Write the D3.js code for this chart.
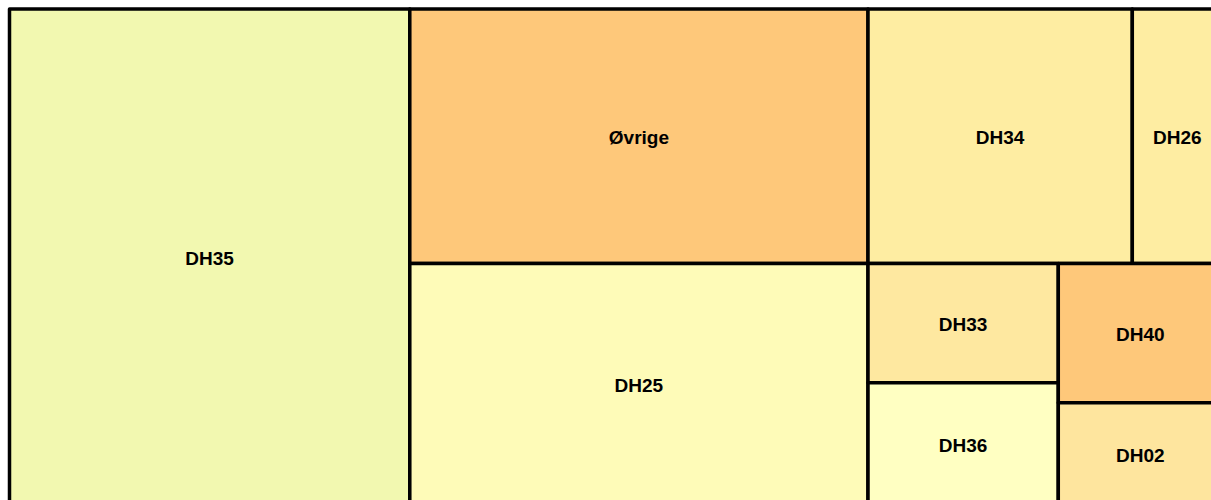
<!DOCTYPE html>
<html>
<head>
<meta charset="utf-8">
<script src="https://cdn.jsdelivr.net/npm/d3@7"></script>
<style>
  body { margin: 0; background: #fff; }
  svg { display: block; }
</style>
</head>
<body>
<div class="graph"></div>
<script>
var names = ["DH35", "Øvrige", "DH25", "DH34", "DH26", "DH33", "DH36", "DH40", "DH02"];
var values = [198.4, 116.3, 110.8, 67.1, 22.9, 22.6, 23.4, 22.8, 16.9];
var colors = ["#f2f8b0", "#fec87a", "#fefbb8", "#feeda2", "#feeda2", "#fee8a0", "#ffffc2", "#fec87a", "#fee59e"];

var width = 1211;
var height = 500;

var svg = d3.select(".graph").append("svg")
  .attr("width", width)
  .attr("height", height);

var g = svg.append("g")
  .attr("transform", "translate(9.5, 9)");

var data = names.map(function (n, i) {
  return { name: n, value: values[i], color: colors[i] };
});

var root = d3.hierarchy({ children: data })
  .sum(function (d) { return d.value || 0; });

d3.treemap()
  .tile(d3.treemapSquarify)
  .size([1213, 497])
  .round(false)(root);

var cell = g.selectAll("g.cell")
  .data(root.leaves())
  .enter().append("g")
  .attr("class", "cell");

cell.append("rect")
  .attr("x", d => d.x0)
  .attr("y", d => d.y0)
  .attr("width", d => d.x1 - d.x0)
  .attr("height", d => d.y1 - d.y0)
  .attr("fill", d => d.data.color)
  .attr("stroke", "#000")
  .attr("stroke-width", 3.5)
  .attr("stroke-linejoin", "round");

cell.append("text")
  .attr("x", d => (d.x0 + d.x1) / 2)
  .attr("y", d => (d.y0 + d.y1) / 2)
  .attr("dy", "0.4em")
  .attr("text-anchor", "middle")
  .style("font-family", "'Liberation Sans', Arial, sans-serif")
  .style("font-weight", "bold")
  .style("font-size", "19px")
  .attr("fill", "#000")
  .text(d => d.data.name);
</script>
</body>
</html>
